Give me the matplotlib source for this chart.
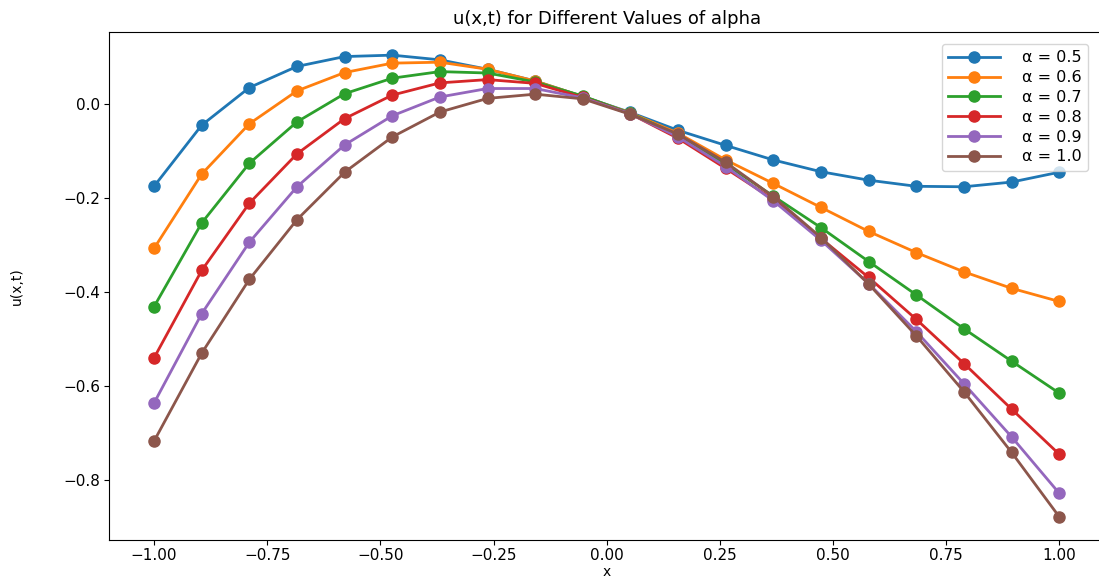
import numpy as np
import matplotlib
matplotlib.use("Agg")
import matplotlib.pyplot as plt

x = np.linspace(-1, 1, 20)
alphas = [0.5, 0.6, 0.7, 0.8, 0.9, 1.0]

u_05 = [-0.175, -0.045, 0.035, 0.080, 0.101, 0.104, 0.094, 0.074, 0.049, 0.016,
        -0.018, -0.056, -0.088, -0.119, -0.144, -0.162, -0.175, -0.176, -0.166, -0.145]
u_06 = [-0.307, -0.149, -0.042, 0.028, 0.067, 0.087, 0.089, 0.074, 0.049, 0.016,
        -0.019, -0.062, -0.119, -0.169, -0.220, -0.271, -0.316, -0.357, -0.392, -0.420]
u_07 = [-0.431, -0.253, -0.126, -0.038, 0.022, 0.055, 0.069, 0.066, 0.047, 0.017,
        -0.020, -0.066, -0.128, -0.196, -0.263, -0.335, -0.406, -0.478, -0.547, -0.615]
u_08 = [-0.540, -0.354, -0.211, -0.106, -0.031, 0.019, 0.045, 0.052, 0.044, 0.014,
        -0.021, -0.073, -0.137, -0.203, -0.286, -0.369, -0.458, -0.552, -0.649, -0.745]
u_09 = [-0.636, -0.446, -0.294, -0.176, -0.087, -0.025, 0.015, 0.033, 0.033, 0.013,
        -0.021, -0.070, -0.133, -0.206, -0.290, -0.382, -0.484, -0.595, -0.708, -0.828]
u_10 = [-0.717, -0.530, -0.373, -0.246, -0.145, -0.070, -0.017, 0.012, 0.021, 0.011,
        -0.022, -0.064, -0.124, -0.197, -0.284, -0.383, -0.493, -0.612, -0.741, -0.878]

series = [u_05, u_06, u_07, u_08, u_09, u_10]

fig = plt.figure(figsize=(10.99, 5.83), dpi=100)
ax = fig.add_axes([0.099, 0.074, 0.906, 0.871])

for a, u in zip(alphas, series):
    ax.plot(x, u, marker="o", markersize=8, linewidth=2, label="\u03b1 = " + str(a))

ax.set_title("u(x,t) for Different Values of alpha", fontsize=13)
ax.set_xlabel("x", fontsize=10, labelpad=1)
ax.set_ylabel("u(x,t)", fontsize=10)
ax.yaxis.set_label_coords(-0.085, 0.5)
ax.tick_params(labelsize=11, pad=2.5)
ax.legend(loc="upper right", bbox_to_anchor=(1096 / 1099, 1 - 36 / 583),
          bbox_transform=fig.transFigure, fontsize=11.5,
          handlelength=3.2, handletextpad=1.4, borderpad=0.4, labelspacing=0.3)

fig.savefig("out.png", dpi=100)
